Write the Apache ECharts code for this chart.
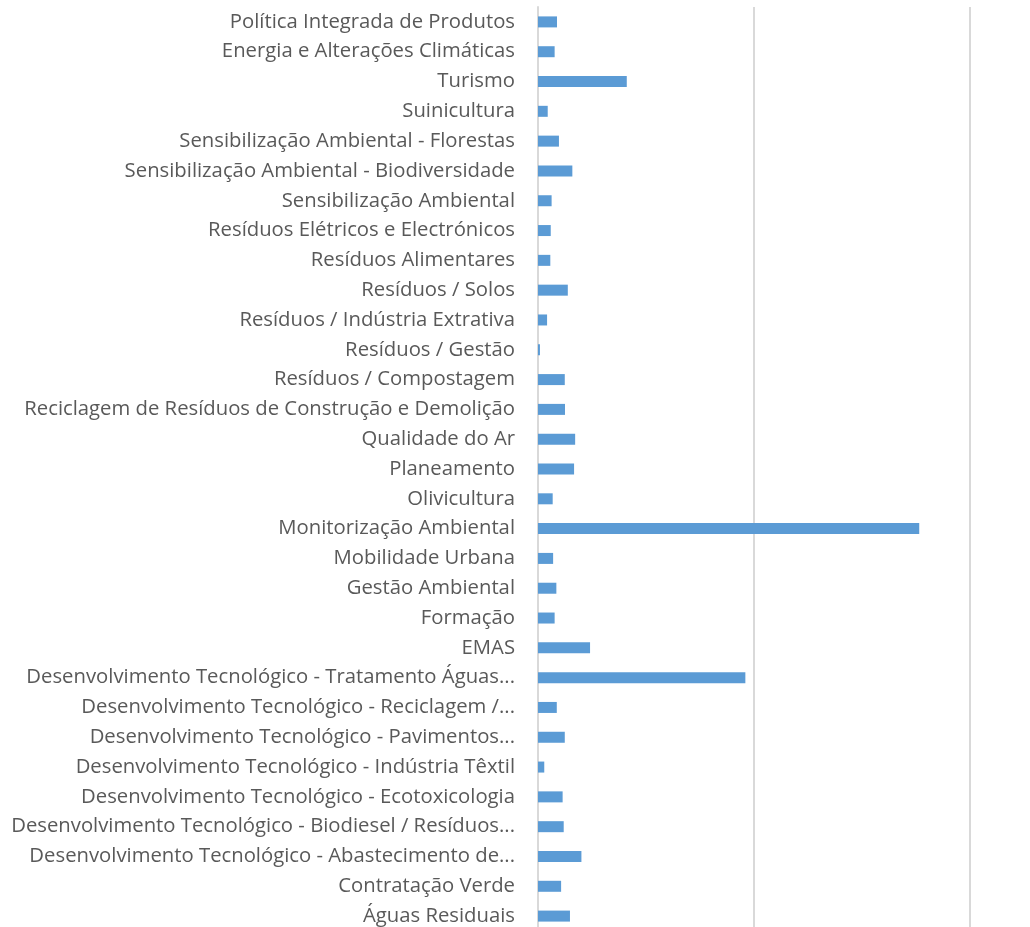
<!DOCTYPE html>
<html>
<head>
<meta charset="utf-8">
<script src="https://cdn.jsdelivr.net/npm/echarts@6/dist/echarts.min.js"></script>
<style>
  html, body { margin: 0; padding: 0; background: #fff; }
  #chart { width: 1030px; height: 927px; }
</style>
</head>
<body>
<div id="chart"></div>
<script>
  // categories, bottom to top (as the category axis draws them)
  const categories = [
    'Águas Residuais',
    'Contratação Verde',
    'Desenvolvimento Tecnológico - Abastecimento de...',
    'Desenvolvimento Tecnológico - Biodiesel / Resíduos...',
    'Desenvolvimento Tecnológico - Ecotoxicologia',
    'Desenvolvimento Tecnológico - Indústria Têxtil',
    'Desenvolvimento Tecnológico - Pavimentos...',
    'Desenvolvimento Tecnológico - Reciclagem /...',
    'Desenvolvimento Tecnológico - Tratamento Águas...',
    'EMAS',
    'Formação',
    'Gestão Ambiental',
    'Mobilidade Urbana',
    'Monitorização Ambiental',
    'Olivicultura',
    'Planeamento',
    'Qualidade do Ar',
    'Reciclagem de Resíduos de Construção e Demolição',
    'Resíduos / Compostagem',
    'Resíduos / Gestão',
    'Resíduos / Indústria Extrativa',
    'Resíduos / Solos',
    'Resíduos Alimentares',
    'Resíduos Elétricos e Electrónicos',
    'Sensibilização Ambiental',
    'Sensibilização Ambiental - Biodiversidade',
    'Sensibilização Ambiental - Florestas',
    'Suinicultura',
    'Turismo',
    'Energia e Alterações Climáticas',
    'Política Integrada de Produtos'
  ]

  const values = [
    14.8, 10.7, 20.1, 11.9, 11.4, 2.9, 12.4, 8.7, 96.0, 24.1,
    7.7, 8.5, 7.0, 176.5, 6.8, 16.7, 17.2, 12.5, 12.4, 0.9,
    4.2, 13.8, 5.7, 5.9, 6.3, 15.9, 9.7, 4.5, 41.1, 7.7, 8.8
  ]

  const chart = echarts.init(document.getElementById('chart'))
  chart.setOption({
    animation: false,
    // the original plot runs past the right and bottom edges of the picture
    grid: {
      left: 538,
      top: 7,
      right: -156,
      bottom: -4,
      outerBoundsMode: 'none'
    },
    xAxis: {
      type: 'value',
      min: 0,
      max: 300,
      interval: 100,
      axisLabel: { show: false },
      axisLine: { show: false },
      axisTick: { show: false },
      splitLine: {
        lineStyle: { color: '#d9d9d9', width: 2 }
      }
    },
    yAxis: {
      type: 'category',
      data: categories,
      axisTick: { show: false },
      axisLine: {
        show: true,
        lineStyle: { color: '#d9d9d9', width: 2 }
      },
      axisLabel: {
        interval: 0,
        margin: 23,
        color: '#595959',
        fontFamily: 'Open Sans',
        fontSize: 20.3
      }
    },
    series: [{
      type: 'bar',
      data: values,
      barWidth: 11,
      itemStyle: { color: '#5b9bd5' }
    }]
  })
</script>
</body>
</html>
